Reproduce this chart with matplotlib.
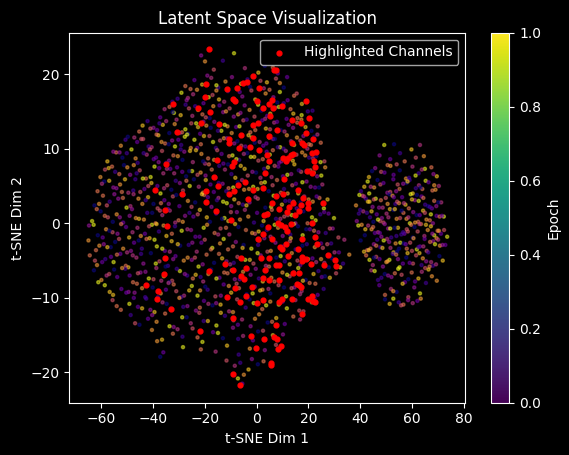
import matplotlib
matplotlib.use("Agg")
from matplotlib import pyplot as plt
from matplotlib import cm, colors

# background embedding points (band by band in y)
bg_x = [
    # left cluster
    -21.4, -19.9, -13.0, -8.7, -16.5, 3.2, 6.3, 8.2, 0.7, -4.5,
    -27.5, -24.0, -21.0, -17.5, -14.8, -12.0, -9.5, -6.0, -2.5, 1.5,
    4.0, 7.5, 10.5, -25.5, -19.0, -15.5, -3.5, 2.8, 9.0, 11.8,
    -32.5, -29.0, -26.5, -23.0, -20.5, -17.0, -14.5, -11.0, -8.0, -5.5,
    -2.0, 1.0, 3.5, 6.5, 9.0, 12.0, 14.5, 17.5, -30.5, -24.5,
    -18.5, -12.5, -6.5, -0.5, 5.0, 10.5, 15.5, -27.0, -15.5, 8.0,
    -37.2, -33.6, -31.9, -27.4, -24.8, -22.6, -18.1, -16.7, -12.9, -10.4,
    -7.1, -4.6, -0.8, 1.9, 5.3, 7.2, 11.6, 13.1, 17.4, 19.8,
    -35.5, -29.3, -23.7, -19.6, -11.8, -6.2, 0.6, 4.1, 9.7, 15.8,
    -32.4, -26.1, -20.9, -14.3, -8.8, -2.7, 3.3, 8.6, 14.2, 21.6,
    -45.3, -42.1, -39.8, -36.2, -33.7, -30.9, -27.5, -25.2, -21.8, -19.4,
    -16.3, -13.6, -11.2, -7.9, -5.1, -2.4, 0.9, 3.6, 6.8, 9.3,
    -44.0, -38.4, -34.9, -28.8, -23.3, -17.7, -9.6, -3.8, 5.2, 12.4,
    -41.0, -31.6, -26.4, -20.5, -14.9, -6.6, 2.2, 10.8, 15.7, 18.9,
    -37.5, -29.7, -22.6, -12.3, -0.5, 7.9, 14.1, 17.3, 21.2, 23.6,
    -52.4, -49.7, -46.1, -43.8, -40.5, -37.9, -35.3, -32.6, -29.1, -26.8,
    -24.0, -21.5, -18.2, -15.7, -12.6, -10.1, -7.4, -4.3, -1.9, 1.2,
    3.8, 6.4, 9.1, 11.7, 14.5, 16.9, 19.6, 22.3, 24.8, -50.6,
    -47.2, -41.7, -38.6, -33.9, -30.2, -25.4, -20.3, -16.8, -11.4, -5.9,
    -0.7, 4.9, 8.2, 13.3, 18.1, 21.0, -44.5, -36.7, -27.7, -22.9,
    -14.1, -8.6, -3.1, 2.6, 7.1, 10.4, 15.6, 20.2, 23.5, -31.5,
    -57.6, -54.2, -51.8, -48.3, -45.9, -42.4, -39.7, -36.5, -33.8, -30.4,
    -27.9, -24.6, -21.3, -18.7, -15.2, -12.8, -9.3, -6.7, -3.6, -0.9,
    2.4, 5.1, 8.7, 11.3, 14.0, 17.6, 20.3, 23.1, 26.2, -55.3,
    -50.1, -46.7, -41.2, -37.8, -32.1, -28.6, -23.4, -19.9, -13.5, -7.8,
    -2.2, 3.9, 9.6, 15.4, 21.8, -43.6, -35.0, -25.7, -16.4, -10.6,
    -4.9, 0.7, 6.3, 12.5, 18.8, 24.7, -52.9, -38.8, -29.3, -20.6,
    -60.3, -57.1, -54.6, -51.2, -48.8, -45.1, -42.7, -39.4, -36.0, -33.3,
    -30.7, -27.2, -24.9, -21.6, -18.4, -15.9, -12.2, -9.7, -6.1, -3.4,
    -0.2, 2.9, 5.8, 8.4, 11.9, 14.6, 17.2, 20.8, 23.4, 26.5,
    -58.5, -53.0, -47.4, -43.9, -37.6, -31.8, -26.0, -19.7, -14.4, -8.2,
    -1.6, 4.4, 10.2, 16.3, 22.1, -55.8, -40.9, -34.6, -22.8, -11.0,
    -4.6, 1.5, 7.0, 13.4, 19.1, 25.0, -49.9, -28.7, -17.3, -46.3,
    -61.4, -58.8, -55.3, -52.7, -49.5, -46.8, -43.3, -40.6, -37.1, -34.5,
    -31.2, -28.4, -25.8, -22.3, -19.6, -16.5, -13.1, -10.8, -7.3, -4.8,
    -1.3, 1.8, 4.7, 7.9, 10.6, 13.8, 16.1, 19.3, 22.6, 25.4,
    -59.7, -54.1, -50.8, -44.9, -38.3, -32.9, -27.1, -20.7, -14.6, -9.0,
    -2.9, 3.2, 9.4, 15.2, 20.9, -56.9, -47.6, -41.8, -35.7, -24.2,
    -17.8, -11.7, -5.6, 0.4, 6.2, 12.0, 17.7, 24.1, -29.6, -52.0,
    -62.6, -59.3, -56.7, -53.4, -50.2, -47.5, -44.1, -41.9, -38.2, -35.6,
    -32.3, -29.8, -26.5, -23.7, -20.2, -17.4, -14.7, -11.5, -8.6, -5.3,
    -2.7, 0.5, 3.4, 6.6, 9.8, 12.7, 15.5, 18.4, 21.7, 24.3,
    27.4, -60.8, -54.9, -48.7, -42.8, -36.9, -31.0, -25.1, -18.8, -12.9,
    -6.9, -0.4, 5.6, 11.1, 17.0, 23.2, -57.8, -45.6, -33.9, -21.1,
    -15.3, -3.9, 8.0, 14.3, 20.1, 26.0, -51.6, -39.8, -28.2, -9.8,
    -63.5, -60.2, -57.4, -54.0, -51.5, -48.1, -45.4, -42.2, -39.0, -36.4,
    -33.5, -30.1, -27.6, -24.4, -21.9, -18.0, -15.6, -12.4, -9.9, -6.4,
    -3.2, 0.2, 2.7, 5.9, 9.2, 12.1, 15.0, 18.1, 21.4, 24.6,
    27.8, 29.9, -61.7, -55.5, -49.0, -43.5, -37.3, -31.4, -25.9, -19.2,
    -13.3, -7.6, -1.0, 4.5, 10.7, 16.6, 22.8, -58.6, -46.6, -34.2,
    -22.7, -10.9, -4.5, 7.5, 13.6, 19.7, 26.1, -52.8, -40.3, -28.5,
    -64.7, -61.3, -58.1, -55.6, -52.3, -49.2, -46.0, -43.1, -40.4, -37.7,
    -34.8, -31.5, -28.9, -25.3, -22.0, -19.1, -16.2, -13.9, -10.5, -7.0,
    -4.1, -0.6, 2.1, 5.4, 8.3, 11.5, 14.4, 17.8, 20.6, 23.9,
    26.7, 29.4, 31.6, -62.9, -56.8, -50.4, -44.7, -38.6, -32.7, -26.7,
    -20.4, -14.8, -8.3, -1.7, 4.0, 10.1, 16.0, 22.2, 28.3, -59.4,
    -47.9, -35.9, -23.6, -11.8, 0.8, 7.0, 13.0, 19.2, -53.7, -41.5,
    -64.9, -62.0, -59.0, -56.3, -53.1, -50.0, -47.3, -44.3, -41.3, -38.5,
    -35.4, -32.8, -29.5, -26.2, -23.1, -20.0, -17.1, -14.1, -11.0, -8.0,
    -5.0, -2.0, 1.1, 4.2, 7.3, 10.3, 13.2, 16.3, 19.4, 22.5,
    25.6, 28.8, 31.8, 33.9, -60.7, -54.6, -48.5, -42.5, -36.4, -30.4,
    -24.8, -17.6, -12.7, -5.4, 0.6, 5.5, 12.9, 17.7, 24.9, 30.1,
    -57.6, -45.5, -33.5, -21.3, -9.1, 3.0, 15.1, 27.3, -51.5, -39.4,
    -64.4, -61.6, -58.4, -55.2, -52.6, -49.5, -46.4, -43.7, -40.8, -37.5,
    -34.2, -31.3, -28.1, -25.0, -22.4, -19.3, -16.4, -13.3, -10.2, -7.4,
    -4.4, -1.2, 1.6, 4.8, 7.6, 10.9, 13.6, 16.9, 19.9, 23.0,
    26.2, 29.1, 32.3, 35.8, -62.4, -56.2, -50.5, -44.6, -38.9, -32.2,
    -26.6, -20.8, -14.5, -8.8, -2.6, 3.6, 9.3, 15.8, 21.6, 27.9,
    -59.6, -47.8, -35.1, -23.8, -11.6, 0.4, 12.8, 24.9, 33.4, -53.9,
    -62.8, -59.9, -56.9, -53.8, -50.7, -47.7, -44.8, -41.6, -38.7, -35.8,
    -32.6, -29.6, -26.8, -23.5, -20.6, -17.5, -14.3, -11.2, -8.4, -5.2,
    -2.3, 0.9, 3.8, 6.9, 10.0, 12.8, 16.1, 19.0, 22.0, 25.2,
    28.3, 30.7, -61.1, -55.0, -49.0, -42.9, -36.8, -30.8, -24.6, -18.6,
    -12.5, -6.5, -0.3, 5.7, 11.8, 17.9, 23.9, -57.9, -45.8, -33.7,
    -21.6, -9.6, 2.4, 14.5, 26.4, -51.9, -39.8, -27.7, -15.5, -3.4,
    -58.6, -55.4, -52.2, -49.4, -46.2, -43.0, -40.1, -37.0, -34.0, -31.0,
    -28.0, -25.0, -21.8, -18.9, -15.9, -12.7, -9.8, -6.8, -3.8, -0.7,
    2.3, 5.3, 8.5, 11.4, 14.6, 17.4, 20.5, 23.6, 25.9, -56.7,
    -50.3, -44.2, -38.1, -32.0, -26.0, -19.8, -13.8, -7.7, -1.5, 4.6,
    10.6, 16.8, 22.7, -47.1, -35.0, -22.8, -10.7, 1.4, 13.5, -29.1,
    -55.6, -52.4, -49.1, -45.8, -42.6, -39.4, -36.3, -33.1, -29.8, -26.7,
    -23.4, -20.3, -17.0, -13.9, -10.6, -7.5, -4.2, -1.1, 2.2, 5.3,
    8.6, 11.7, 15.0, 18.1, 21.3, -54.0, -47.4, -41.0, -34.7, -28.3,
    -21.9, -15.6, -9.1, -2.7, 3.7, 10.1, 16.5, 22.4, -44.2, -18.6,
    -48.6, -45.2, -41.9, -38.6, -35.3, -32.0, -28.7, -25.4, -22.1, -18.8,
    -15.5, -12.2, -8.9, -5.6, -2.3, 1.0, 4.3, 7.6, 10.9, 14.2,
    16.8, -46.9, -40.3, -33.6, -27.0, -20.4, -13.8, -7.2, -0.6, 6.0,
    -40.4, -36.5, -32.3, -28.6, -24.7, -20.9, -16.8, -13.0, -9.1, -5.2,
    -1.4, 2.5, 6.3, 10.2, -38.4, -30.5, -22.8, -14.9, -7.1, 0.6,
    -37.2, -36.0, -28.4, -21.5, -15.8, -11.4, -6.9, -2.6, 3.2, 7.5,
    -11.6, -8.4, -6.3, -4.9, -3.1, -1.8, 0.5, 2.7, -7.2, -5.5,
    # right cluster
    47.5, 49.3, 51.6, 53.1, 55.4, 57.2, 59.8, 61.5, 63.1, 64.6,
    43.4, 45.8, 48.1, 50.6, 52.9, 55.3, 57.7, 60.2, 62.6, 65.0,
    67.5, 69.6, 44.6, 49.4, 54.1, 58.9, 63.8, 68.3, 51.7, 61.4,
    40.3, 42.9, 45.4, 47.8, 50.5, 52.8, 55.2, 57.9, 60.3, 62.7,
    65.3, 67.9, 70.4, 41.6, 46.7, 51.6, 56.6, 61.5, 66.4, 69.1,
    44.1, 49.0, 53.9, 59.1, 64.0, 68.6, 43.5, 58.3, 63.3, 54.5,
    38.4, 40.9, 43.6, 46.0, 48.7, 51.3, 53.6, 56.2, 58.8, 61.1,
    63.7, 66.2, 68.6, 71.3, 39.7, 44.8, 49.9, 55.0, 60.0, 65.1,
    70.2, 42.2, 47.3, 52.5, 57.5, 62.6, 67.7, 41.5, 54.3, 64.4,
    45.3, 50.6, 59.5, 69.4, 48.0, 56.9, 61.9, 66.9, 53.0, 43.0,
    38.7, 41.2, 43.8, 46.4, 49.0, 51.5, 54.1, 56.7, 59.2, 61.8,
    64.3, 66.9, 69.5, 72.3, 40.0, 45.1, 50.2, 55.4, 60.5, 65.6,
    70.7, 42.6, 47.7, 52.8, 57.9, 63.0, 68.1, 44.4, 58.6, 67.3,
    39.5, 48.4, 53.4, 62.4, 71.6, 46.9, 56.0, 61.2, 65.0, 50.9,
    39.3, 41.8, 44.4, 46.9, 49.5, 52.0, 54.6, 57.1, 59.7, 62.2,
    64.8, 67.3, 69.9, 72.4, 73.6, 40.6, 45.7, 50.8, 55.9, 61.0,
    66.1, 71.2, 43.1, 48.2, 53.3, 58.4, 63.5, 68.6, 42.0, 56.6,
    47.6, 51.6, 60.3, 65.4, 70.4, 45.0, 54.0, 62.9, 67.9, 58.0,
    40.2, 42.7, 45.3, 47.8, 50.4, 52.9, 55.5, 58.0, 60.6, 63.1,
    65.7, 68.2, 70.8, 72.9, 41.5, 46.6, 51.7, 56.8, 61.9, 67.0,
    71.8, 44.0, 49.1, 54.2, 59.3, 64.4, 69.5, 43.3, 57.6, 62.5,
    48.6, 53.7, 66.3, 70.1, 46.2, 51.2, 60.0, 64.9, 55.0, 68.9,
    42.3, 44.9, 47.5, 50.1, 52.6, 55.2, 57.8, 60.4, 62.9, 65.5,
    68.1, 70.6, 71.9, 43.6, 48.8, 53.9, 59.1, 64.2, 69.3, 46.2,
    51.3, 56.5, 61.6, 66.8, 45.4, 50.6, 58.3, 63.7, 54.6, 67.4,
    44.3, 46.9, 49.5, 52.1, 54.7, 57.3, 59.9, 62.5, 65.1, 67.7,
    69.6, 45.6, 50.8, 56.0, 61.2, 66.4, 48.2, 53.4, 58.6, 63.8,
    47.4, 49.6, 51.9, 54.1, 56.4, 58.6, 60.9, 63.1, 65.4, 52.8,
    49.6, 51.4, 52.8, 54.9, 56.7, 58.5, 60.3, 62.1, 63.4, 55.8,
]

bg_y = [
    # left cluster
    22.5, 21.7, 21.8, 22.8, 20.6, 21.1, 20.9, 20.1, 20.2, 20.8,
    18.4, 19.2, 18.6, 19.5, 18.2, 19.0, 19.6, 18.7, 18.3, 19.1,
    18.9, 19.4, 18.2, 18.0, 19.8, 18.5, 19.3, 18.1, 18.8, 19.6,
    16.3, 17.5, 16.8, 17.9, 16.1, 17.2, 16.6, 17.7, 16.4, 17.0,
    17.8, 16.2, 17.4, 16.9, 17.6, 16.5, 17.1, 16.0, 16.7, 17.3,
    16.9, 16.3, 17.6, 16.6, 17.9, 16.1, 17.4, 16.5, 17.8, 16.2,
    14.2, 15.6, 14.8, 15.9, 14.4, 15.2, 14.1, 15.7, 14.9, 15.4,
    14.6, 15.8, 14.3, 15.1, 14.7, 15.5, 14.0, 15.3, 14.5, 15.0,
    15.3, 14.5, 15.7, 14.2, 15.0, 14.8, 15.9, 14.4, 15.6, 14.1,
    14.9, 15.4, 14.6, 15.8, 14.3, 15.2, 14.0, 15.6, 14.7, 15.1,
    12.3, 13.7, 12.8, 13.2, 12.1, 13.9, 12.6, 13.4, 12.0, 13.1,
    13.6, 12.4, 13.0, 12.9, 13.8, 12.2, 13.3, 12.7, 13.5, 12.5,
    13.1, 12.5, 13.7, 12.2, 13.4, 12.8, 12.1, 13.9, 12.6, 13.2,
    12.7, 13.3, 12.0, 13.6, 12.4, 13.0, 13.8, 12.3, 13.5, 12.9,
    13.4, 12.1, 12.9, 13.2, 12.5, 13.6, 12.8, 13.9, 12.4, 13.0,
    10.4, 11.6, 10.9, 11.3, 10.2, 11.8, 10.7, 11.1, 10.5, 11.9,
    11.2, 10.6, 11.7, 10.1, 11.4, 10.8, 11.0, 10.3, 11.5, 10.9,
    10.7, 11.3, 10.2, 11.8, 10.5, 11.1, 10.0, 11.6, 10.8, 11.2,
    11.5, 10.3, 11.9, 10.6, 11.2, 10.1, 11.7, 10.9, 11.4, 10.4,
    10.8, 11.5, 10.2, 11.0, 11.7, 10.5, 11.3, 10.9, 11.6, 10.1,
    11.1, 10.7, 11.8, 10.4, 11.3, 10.0, 11.5, 10.6, 11.9, 10.3,
    8.3, 9.5, 8.8, 9.9, 8.1, 9.2, 8.6, 9.7, 8.4, 9.0,
    9.6, 8.2, 9.3, 8.7, 9.8, 8.0, 9.1, 8.5, 9.4, 8.9,
    8.6, 9.2, 8.1, 9.7, 8.4, 9.5, 8.8, 9.0, 8.3, 9.6,
    9.4, 8.7, 9.9, 8.2, 9.1, 8.5, 9.8, 8.0, 9.3, 8.6,
    8.9, 9.6, 8.3, 9.2, 8.7, 9.4, 8.1, 9.7, 8.5, 9.0,
    9.3, 8.4, 9.8, 8.6, 9.1, 8.2, 9.5, 8.8, 9.9, 8.3,
    6.2, 7.4, 6.9, 7.8, 6.5, 7.1, 6.0, 7.6, 6.7, 7.3,
    7.5, 6.3, 7.0, 6.8, 7.9, 6.1, 7.2, 6.6, 7.7, 6.4,
    6.8, 7.3, 6.2, 7.6, 6.5, 7.9, 6.9, 7.1, 6.3, 7.5,
    7.2, 6.6, 7.8, 6.0, 7.4, 6.7, 7.0, 6.4, 7.7, 6.1,
    6.9, 7.5, 6.3, 7.1, 6.8, 7.6, 6.2, 7.3, 6.5, 7.9,
    7.3, 6.1, 7.7, 6.6, 7.0, 6.4, 7.5, 6.9, 7.2, 6.7,
    4.3, 5.6, 4.8, 5.2, 4.1, 5.9, 4.6, 5.4, 4.0, 5.1,
    5.7, 4.4, 5.0, 4.9, 5.8, 4.2, 5.3, 4.7, 5.5, 4.5,
    4.9, 5.4, 4.3, 5.8, 4.6, 5.1, 4.0, 5.6, 4.8, 5.2,
    5.3, 4.7, 5.9, 4.2, 5.0, 4.5, 5.7, 4.1, 5.4, 4.8,
    4.6, 5.5, 4.1, 5.3, 4.9, 5.7, 4.4, 5.0, 4.7, 5.9,
    5.2, 4.3, 5.8, 4.6, 5.1, 4.0, 5.5, 4.8, 5.4, 4.2,
    2.4, 3.7, 2.9, 3.3, 2.1, 3.9, 2.6, 3.5, 2.0, 3.1,
    3.6, 2.3, 3.0, 2.8, 3.8, 2.2, 3.4, 2.7, 3.2, 2.5,
    2.8, 3.3, 2.1, 3.7, 2.5, 3.0, 2.0, 3.6, 2.9, 3.4,
    3.2, 2.6, 3.9, 2.3, 3.1, 2.7, 3.8, 2.2, 3.5, 2.9,
    2.7, 3.5, 2.2, 3.0, 2.8, 3.6, 2.4, 3.3, 2.6, 3.9,
    3.1, 2.4, 3.7, 2.9, 3.2, 2.0, 3.4, 2.6, 3.8, 2.3,
    0.3, 1.6, 0.8, 1.2, 0.1, 1.9, 0.6, 1.4, 0.0, 1.1,
    1.7, 0.4, 1.0, 0.9, 1.8, 0.2, 1.3, 0.7, 1.5, 0.5,
    0.9, 1.4, 0.3, 1.8, 0.6, 1.1, 0.0, 1.6, 0.8, 1.2,
    1.3, 0.7, 1.9, 0.2, 1.0, 0.5, 1.7, 0.1, 1.4, 0.8,
    0.6, 1.5, 0.1, 1.3, 0.9, 1.7, 0.4, 1.0, 0.7, 1.9,
    1.2, 0.3, 1.8, 0.6, 1.1, 0.0, 1.5, 0.8, 1.4, 0.2,
    -0.3, -1.6, -0.8, -1.2, -0.1, -1.9, -0.6, -1.4, -0.2, -1.1,
    -1.7, -0.4, -1.0, -0.9, -1.8, -0.2, -1.3, -0.7, -1.5, -0.5,
    -0.9, -1.4, -0.3, -1.8, -0.6, -1.1, -0.1, -1.6, -0.8, -1.2,
    -1.3, -0.7, -1.9, -0.2, -1.0, -0.5, -1.7, -0.1, -1.4, -0.8,
    -0.6, -1.5, -0.1, -1.3, -0.9, -1.7, -0.4, -1.0, -0.7, -1.9,
    -1.2, -0.3, -1.8, -0.6, -1.1, -0.2, -1.5, -0.8, -1.4, -0.4,
    -2.3, -3.6, -2.8, -3.2, -2.1, -3.9, -2.6, -3.4, -2.0, -3.1,
    -3.7, -2.4, -3.0, -2.9, -3.8, -2.2, -3.3, -2.7, -3.5, -2.5,
    -2.9, -3.4, -2.3, -3.8, -2.6, -3.1, -2.0, -3.6, -2.8, -3.2,
    -3.3, -2.7, -3.9, -2.2, -3.0, -2.5, -3.7, -2.1, -3.4, -2.8,
    -2.6, -3.5, -2.1, -3.3, -2.9, -3.7, -2.4, -3.0, -2.7, -3.9,
    -3.2, -2.3, -3.8, -2.6, -3.1, -2.0, -3.5, -2.8, -3.4, -2.2,
    -4.3, -5.6, -4.8, -5.2, -4.1, -5.9, -4.6, -5.4, -4.0, -5.1,
    -5.7, -4.4, -5.0, -4.9, -5.8, -4.2, -5.3, -4.7, -5.5, -4.5,
    -4.9, -5.4, -4.3, -5.8, -4.6, -5.1, -4.0, -5.6, -4.8, -5.2,
    -5.3, -4.7, -5.9, -4.2, -5.0, -4.5, -5.7, -4.1, -5.4, -4.8,
    -4.6, -5.5, -4.1, -5.3, -4.9, -5.7, -4.4, -5.0, -4.7, -5.9,
    -5.2, -4.3, -5.8, -4.6, -5.1, -4.0, -5.5, -4.8, -5.4, -4.2,
    -6.3, -7.6, -6.8, -7.2, -6.1, -7.9, -6.6, -7.4, -6.0, -7.1,
    -7.7, -6.4, -7.0, -6.9, -7.8, -6.2, -7.3, -6.7, -7.5, -6.5,
    -6.9, -7.4, -6.3, -7.8, -6.6, -7.1, -6.0, -7.6, -6.8, -7.2,
    -7.3, -6.7, -7.9, -6.2, -7.0, -6.5, -7.7, -6.1, -7.4, -6.8,
    -6.6, -7.5, -6.1, -7.3, -6.9, -7.7, -6.4, -7.0, -6.7, -7.9,
    -7.2, -6.3, -7.8, -6.6, -7.1, -6.0, -7.5, -6.8, -7.4, -6.2,
    -8.3, -9.6, -8.8, -9.2, -8.1, -9.9, -8.6, -9.4, -8.0, -9.1,
    -9.7, -8.4, -9.0, -8.9, -9.8, -8.2, -9.3, -8.7, -9.5, -8.5,
    -8.9, -9.4, -8.3, -9.8, -8.6, -9.1, -8.0, -9.6, -8.8, -9.2,
    -9.3, -8.7, -9.9, -8.2, -9.0, -8.5, -9.7, -8.1, -9.4, -8.8,
    -8.6, -9.5, -8.1, -9.3, -8.9, -9.7, -8.4, -9.0, -8.7, -9.9,
    -10.3, -11.6, -10.8, -11.2, -10.1, -11.9, -10.6, -11.4, -10.0, -11.1,
    -11.7, -10.4, -11.0, -10.9, -11.8, -10.2, -11.3, -10.7, -11.5, -10.5,
    -10.9, -11.4, -10.3, -11.8, -10.6, -11.1, -10.0, -11.6, -10.8, -11.2,
    -11.3, -10.7, -11.9, -10.2, -11.0, -10.5, -11.7, -10.1, -11.4, -10.8,
    -12.3, -13.6, -12.8, -13.2, -12.1, -13.9, -12.6, -13.4, -12.0, -13.1,
    -13.7, -12.4, -13.0, -12.9, -13.8, -12.2, -13.3, -12.7, -13.5, -12.5,
    -12.9, -13.4, -12.3, -13.8, -12.6, -13.1, -12.0, -13.6, -12.8, -13.2,
    -14.3, -15.6, -14.8, -15.2, -14.1, -15.9, -14.6, -15.4, -14.0, -15.1,
    -15.7, -14.4, -15.0, -14.9, -15.8, -14.2, -15.3, -14.7, -15.5, -14.5,
    -17.9, -17.3, -16.6, -16.9, -17.2, -16.4, -17.6, -16.8, -17.0, -16.3,
    -18.4, -19.1, -18.7, -20.3, -19.6, -18.2, -18.9, -18.5, -20.8, -21.5,
    # right cluster
    9.1, 10.5, 8.6, 10.6, 9.4, 8.3, 9.9, 8.8, 10.5, 9.0,
    6.2, 7.4, 6.9, 7.8, 6.5, 7.1, 6.0, 7.6, 6.7, 7.3,
    7.5, 6.3, 7.0, 6.8, 7.9, 6.1, 7.2, 6.6, 7.7, 6.4,
    4.3, 5.6, 4.8, 5.2, 4.1, 5.9, 4.6, 5.4, 4.0, 5.1,
    5.7, 4.4, 5.0, 4.9, 5.8, 4.2, 5.3, 4.7, 5.5, 4.5,
    4.9, 5.4, 4.3, 5.8, 4.6, 5.1, 4.0, 5.6, 4.8, 5.2,
    2.4, 3.7, 2.9, 3.3, 2.1, 3.9, 2.6, 3.5, 2.0, 3.1,
    3.6, 2.3, 3.0, 2.8, 3.8, 2.2, 3.4, 2.7, 3.2, 2.5,
    2.8, 3.3, 2.1, 3.7, 2.5, 3.0, 2.0, 3.6, 2.9, 3.4,
    3.2, 2.6, 3.9, 2.3, 3.1, 2.7, 3.8, 2.2, 3.5, 2.9,
    0.3, 1.6, 0.8, 1.2, 0.1, 1.9, 0.6, 1.4, 0.0, 1.1,
    1.7, 0.4, 1.0, 0.9, 1.8, 0.2, 1.3, 0.7, 1.5, 0.5,
    0.9, 1.4, 0.3, 1.8, 0.6, 1.1, 0.0, 1.6, 0.8, 1.2,
    1.3, 0.7, 1.9, 0.2, 1.0, 0.5, 1.7, 0.1, 1.4, 0.8,
    -0.3, -1.6, -0.8, -1.2, -0.1, -1.9, -0.6, -1.4, -0.2, -1.1,
    -1.7, -0.4, -1.0, -0.9, -1.8, -0.2, -1.3, -0.7, -1.5, -0.5,
    -0.9, -1.4, -0.3, -1.8, -0.6, -1.1, -0.1, -1.6, -0.8, -1.2,
    -1.3, -0.7, -1.9, -0.2, -1.0, -0.5, -1.7, -0.1, -1.4, -0.8,
    -2.3, -3.6, -2.8, -3.2, -2.1, -3.9, -2.6, -3.4, -2.0, -3.1,
    -3.7, -2.4, -3.0, -2.9, -3.8, -2.2, -3.3, -2.7, -3.5, -2.5,
    -2.9, -3.4, -2.3, -3.8, -2.6, -3.1, -2.0, -3.6, -2.8, -3.2,
    -3.3, -2.7, -3.9, -2.2, -3.0, -2.5, -3.7, -2.1, -3.4, -2.8,
    -4.3, -5.6, -4.8, -5.2, -4.1, -5.9, -4.6, -5.4, -4.0, -5.1,
    -5.7, -4.4, -5.0, -4.9, -5.8, -4.2, -5.3, -4.7, -5.5, -4.5,
    -4.9, -5.4, -4.3, -5.8, -4.6, -5.1, -4.0, -5.6, -4.8, -5.2,
    -6.3, -7.6, -6.8, -7.2, -6.1, -7.9, -6.6, -7.4, -6.0, -7.1,
    -7.7, -6.4, -7.0, -6.9, -7.8, -6.2, -7.3, -6.7, -7.5, -6.5,
    -8.3, -9.6, -8.8, -9.2, -8.1, -9.9, -8.6, -9.4, -8.0, -9.1,
    -10.2, -10.8, -10.1, -10.6, -10.9, -10.3, -10.7, -10.4, -10.1, -11.0,
]

# epoch index of each background point (0..9)
bg_epoch = [
    3, 7, 1, 9, 5, 0, 6, 2, 8, 4,
    6, 2, 8, 4, 1, 7, 3, 9, 0, 5,
    8, 5, 0, 6, 3, 9, 1, 4, 7, 2,
    1, 9, 4, 7, 2, 5, 8, 0, 6, 3,
    5, 0, 7, 3, 9, 2, 6, 8, 1, 4,
    9, 4, 2, 8, 6, 1, 5, 3, 7, 0,
    2, 6, 9, 1, 4, 8, 0, 7, 3, 5,
    7, 3, 5, 0, 8, 4, 2, 6, 9, 1,
    4, 8, 1, 5, 7, 3, 9, 2, 0, 6,
    0, 5, 6, 2, 3, 7, 4, 9, 8, 1,
    6, 1, 3, 8, 0, 4, 9, 5, 2, 7,
    3, 9, 7, 2, 5, 6, 1, 8, 4, 0,
    8, 2, 4, 6, 9, 0, 7, 1, 5, 3,
    5, 7, 0, 3, 1, 9, 2, 4, 6, 8,
    1, 4, 8, 9, 6, 2, 3, 7, 0, 5,
    7, 0, 2, 5, 4, 8, 6, 3, 1, 9,
    9, 6, 5, 1, 7, 3, 0, 2, 8, 4,
    2, 3, 9, 7, 8, 5, 4, 0, 6, 1,
    4, 1, 6, 0, 2, 7, 8, 9, 3, 5,
    0, 8, 1, 4, 3, 6, 5, 7, 9, 2,
    5, 3, 8, 2, 0, 1, 7, 6, 4, 9,
    8, 6, 0, 9, 1, 4, 2, 5, 3, 7,
    3, 4, 7, 6, 5, 2, 9, 1, 0, 8,
    6, 9, 2, 4, 8, 7, 1, 0, 5, 3,
    1, 7, 5, 3, 6, 0, 8, 4, 2, 9,
    9, 2, 3, 5, 4, 1, 0, 8, 7, 6,
    4, 5, 6, 8, 7, 9, 3, 2, 1, 0,
    7, 8, 1, 0, 3, 5, 6, 9, 4, 2,
    2, 0, 9, 7, 6, 3, 4, 1, 8, 5,
    0, 1, 4, 2, 9, 8, 5, 6, 3, 7,
    5, 6, 7, 9, 2, 4, 0, 3, 1, 8,
    3, 8, 2, 1, 7, 6, 9, 4, 5, 0,
    8, 4, 5, 3, 0, 9, 7, 2, 6, 1,
    6, 0, 3, 7, 4, 1, 2, 8, 9, 5,
    1, 5, 9, 4, 8, 2, 3, 6, 0, 7,
    9, 7, 0, 6, 1, 5, 8, 3, 2, 4,
    4, 3, 8, 5, 2, 0, 6, 7, 1, 9,
    7, 9, 6, 2, 3, 8, 1, 5, 4, 0,
    2, 1, 4, 8, 5, 7, 9, 0, 3, 6,
    0, 6, 1, 3, 9, 4, 7, 8, 5, 2,
    5, 2, 7, 0, 6, 3, 4, 9, 8, 1,
    3, 5, 0, 9, 8, 1, 2, 4, 7, 6,
    8, 7, 3, 4, 1, 6, 0, 5, 2, 9,
    6, 4, 9, 1, 0, 2, 5, 7, 3, 8,
    1, 8, 2, 5, 7, 9, 6, 0, 4, 3,
    9, 0, 5, 7, 2, 3, 8, 1, 6, 4,
    4, 6, 3, 2, 8, 0, 1, 9, 5, 7,
    7, 2, 8, 6, 4, 5, 3, 0, 9, 1,
    2, 9, 6, 0, 3, 7, 5, 4, 1, 8,
    0, 3, 1, 8, 5, 4, 9, 6, 7, 2,
    5, 8, 4, 1, 9, 6, 2, 3, 0, 7,
    3, 0, 7, 5, 6, 8, 4, 2, 9, 1,
    8, 1, 9, 3, 2, 7, 6, 5, 4, 0,
    6, 5, 0, 4, 7, 1, 8, 9, 2, 3,
    1, 3, 5, 9, 0, 2, 7, 8, 6, 4,
    9, 4, 8, 7, 1, 3, 0, 6, 5, 2,
    4, 7, 2, 6, 8, 9, 1, 0, 3, 5,
    7, 6, 3, 0, 5, 4, 2, 1, 8, 9,
    2, 8, 0, 1, 4, 5, 9, 7, 6, 3,
    0, 9, 6, 5, 3, 2, 8, 4, 1, 7,
    5, 1, 2, 4, 7, 0, 3, 6, 9, 8,
    3, 6, 9, 8, 1, 7, 5, 0, 2, 4,
    8, 0, 4, 2, 6, 3, 1, 5, 7, 9,
    6, 7, 1, 9, 2, 8, 4, 3, 0, 5,
    1, 2, 7, 3, 9, 6, 0, 8, 4, 5,
    9, 5, 3, 6, 0, 1, 7, 2, 8, 4,
    4, 0, 8, 7, 5, 2, 6, 1, 9, 3,
    7, 3, 6, 1, 8, 4, 9, 5, 2, 0,
    2, 4, 0, 5, 3, 9, 8, 7, 1, 6,
    0, 7, 5, 2, 1, 6, 3, 9, 4, 8,
    5, 9, 1, 8, 4, 0, 2, 6, 3, 7,
    3, 1, 4, 6, 7, 5, 9, 0, 8, 2,
    8, 5, 9, 0, 2, 3, 4, 1, 6, 7,
    6, 2, 3, 7, 9, 8, 1, 4, 5, 0,
    1, 6, 8, 4, 0, 7, 5, 3, 9, 2,
    9, 8, 2, 3, 6, 1, 0, 7, 4, 5,
    4, 9, 7, 1, 5, 2, 8, 6, 0, 3,
    7, 0, 5, 9, 3, 4, 6, 2, 1, 8,
    2, 7, 1, 6, 8, 0, 3, 5, 9, 4,
    0, 4, 6, 3, 2, 9, 7, 8, 5, 1,
    5, 6, 9, 2, 1, 8, 4, 0, 7, 3,
    3, 2, 0, 8, 4, 5, 1, 9, 6, 7,
    8, 9, 4, 5, 7, 6, 2, 3, 0, 1,
    6, 3, 7, 0, 9, 2, 5, 1, 8, 4,
    1, 0, 2, 7, 6, 3, 9, 4, 5, 8,
    9, 1, 5, 4, 3, 7, 0, 8, 2, 6,
    4, 5, 3, 9, 0, 1, 8, 2, 7, 6,
    7, 8, 6, 1, 5, 9, 2, 0, 3, 4,
    2, 5, 8, 3, 7, 4, 6, 9, 1, 0,
    0, 2, 9, 6, 4, 8, 1, 7, 3, 5,
    5, 4, 1, 7, 8, 3, 0, 6, 9, 2,
    3, 9, 2, 0, 1, 6, 8, 5, 4, 7,
    8, 3, 5, 6, 2, 0, 7, 4, 1, 9,
    6, 8, 0, 2, 5, 1, 4, 3, 7, 9,
    1, 9, 7, 5, 3, 2, 6, 0, 8, 4,
    9, 6, 4, 8, 0, 5, 3, 1, 2, 7,
    4, 2, 3, 1, 6, 7, 9, 8, 0, 5,
    7, 5, 8, 9, 4, 0, 1, 2, 6, 3,
    2, 0, 6, 4, 9, 3, 5, 7, 8, 1,
    0, 1, 3, 7, 8, 9, 2, 4, 5, 6,
    5, 7, 9, 3, 6, 4, 0, 1, 2, 8,
    3, 4, 1, 2, 5, 8, 7, 6, 9, 0,
    8, 6, 2, 9, 1, 0, 4, 5, 3, 7,
    6, 1, 5, 0, 7, 2, 3, 8, 4, 9,
    1, 3, 8, 6, 2, 9, 0, 7, 5, 4,
    9, 0, 7, 4, 3, 1, 8, 2, 6, 5,
    4, 8, 6, 5, 9, 7, 2, 3, 1, 0,
    7, 2, 4, 3, 0, 5, 6, 9, 8, 1,
    2, 9, 0, 8, 7, 6, 1, 4, 3, 5,
    0, 5, 3, 1, 4, 8, 9, 6, 7, 2,
    5, 3, 7, 2, 8, 1, 4, 0, 9, 6,
    3, 6, 9, 0, 5, 4, 7, 8, 2, 1,
    8, 7, 1, 4, 6, 3, 5, 2, 0, 9,
    6, 4, 2, 7, 1, 9, 0, 5, 8, 3,
    1, 0, 8, 9, 3, 6, 2, 7, 4, 5,
    9, 2, 5, 6, 0, 7, 8, 1, 3, 4,
    4, 1, 0, 3, 9, 2, 6, 8, 5, 7,
    7, 9, 3, 5, 2, 8, 1, 6, 0, 4,
    2, 6, 4, 0, 8, 5, 3, 9, 1, 7,
    0, 8, 9, 1, 6, 3, 4, 2, 7, 5,
]

# highlighted channels (red)
hi_x = [
    -18.2, -19.4, -32.1, -22.5, -19.9, -18.0, -11.3, -7.6, -5.1, -3.8,
    -1.2, 1.1, -9.0, -8.3, 0.3, 2.4, 4.7, -14.4, -21.3, -30.6,
    -10.5, -10.5, -5.9, -1.5, 0.7, -1.2, 4.7, -6.6, -2.4, 1.1,
    3.9, -15.4, -8.6, -9.3, -35.1, 3.3, -16.4, -14.7, -7.0, -4.4,
    -1.2, 2.6, -39.2, -28.6, -19.5, -10.5, -8.6, -19.4, -3.2, -35.2,
    -15.6, 2.9, 3.9, 6.9, 7.5, 5.9, 6.3, 9.8, 19.1, 5.2,
    13.6, 17.1, 20.4, 8.0, 19.0, 21.9, 13.6, 17.5, 18.3, 10.1,
    12.3, 13.2, 14.0, 21.5, 22.9, 4.9, 11.4, 22.3, 22.6, 19.4,
    21.3, 10.6, 16.1, 7.4, 10.1, 17.8, 6.1, 14.2, 12.4, 17.1,
    20.0, 19.8, 25.6, 8.8, 11.9, 14.9, 16.5, -34.7, -9.7, 4.6,
    0.7, 2.4, -35.3, -6.0, 1.6, 4.8, -12.2, -18.2, -9.0, -4.1,
    3.3, -35.6, -6.0, -4.7, 2.6, 4.8, -42.5, -37.9, -8.2, -1.6,
    -38.3, -11.3, -4.1, -6.3, 0.3, 2.6, -32.9, -9.0, -21.7, -2.1,
    3.0, -0.1, -9.1, -6.3, 8.2, 9.5, 11.0, 13.2, 11.9, 21.3,
    22.7, 23.5, 5.9, 9.1, 9.7, 11.4, 16.1, 17.7, 12.3, 17.5,
    17.5, 19.1, 21.0, 26.1, 27.7, 30.4, 30.8, 7.5, 8.7, 14.2,
    16.5, 8.7, 15.5, 16.5, 17.1, 9.7, 8.8, 13.8, 19.8, 21.5,
    21.7, 22.7, 17.7, 7.6, 6.8, 8.0, 9.5, 8.4, 5.7, 5.7,
]
hi_y = [
    23.3, 18.7, 16.0, 15.5, 16.9, 14.9, 18.0, 18.1, 18.8, 19.0,
    19.7, 18.2, 16.6, 16.4, 16.4, 15.4, 16.0, 13.3, 13.4, 12.2,
    11.3, 10.7, 11.9, 13.2, 13.5, 11.5, 11.7, 10.1, 10.2, 9.8,
    9.1, 8.5, 8.2, 7.7, 7.9, 6.7, 6.2, 5.0, 5.2, 5.6,
    4.4, 4.7, 4.4, 3.9, 4.3, 3.9, 4.3, 2.8, 3.3, 1.8,
    1.6, 1.1, 1.2, 20.6, 20.5, 16.5, 15.5, 15.7, 16.4, 14.4,
    13.8, 13.4, 14.1, 12.5, 12.1, 11.3, 10.8, 10.7, 10.5, 8.8,
    8.8, 9.1, 9.3, 9.4, 9.5, 8.4, 8.4, 8.4, 7.5, 7.0,
    6.7, 5.9, 4.5, 3.6, 3.9, 3.4, 2.7, 2.7, 2.2, 2.5,
    2.7, 2.1, 2.7, 1.9, 1.5, 1.1, 1.7, -0.4, 0.4, -0.5,
    -2.1, -1.4, -4.6, -4.6, -4.6, -4.7, -5.5, -6.4, -6.3, -6.0,
    -6.3, -6.8, -7.1, -7.5, -7.4, -7.6, -8.3, -9.1, -8.7, -8.6,
    -10.1, -9.9, -9.7, -10.5, -10.7, -10.3, -11.5, -12.7, -14.4, -15.1,
    -15.5, -16.7, -20.2, -21.7, 0.0, -0.2, -0.5, -0.1, -1.0, 0.1,
    -1.9, -2.8, -2.1, -3.2, -3.4, -2.8, -3.4, -2.1, -4.4, -4.5,
    -5.1, -4.8, -5.4, -5.6, -4.3, -4.9, -5.7, -5.6, -5.6, -6.7,
    -6.7, -7.6, -8.1, -8.3, -8.6, -10.1, -10.5, -10.2, -10.1, -9.7,
    -10.4, -10.5, -12.2, -13.7, -15.2, -15.5, -16.4, -16.9, -18.7, -19.0,
]

n = min(len(bg_x), len(bg_y), len(bg_epoch))

plt.style.use("dark_background")
fig = plt.figure(figsize=(5.69, 4.55), dpi=100)
ax = fig.add_axes([69.3 / 569, 52.3 / 455, 396.0 / 569, 370.0 / 455])
cax = fig.add_axes([490.7 / 569, 52.3 / 455, 18.6 / 569, 370.0 / 455])

ax.scatter(bg_x[:n], bg_y[:n], c=bg_epoch[:n], cmap="plasma", vmin=0, vmax=9,
           s=5, alpha=0.5)
ax.scatter(hi_x, hi_y, c="red", s=12, label="Highlighted Channels")

ax.set_xlim(-72.3, 80.6)
ax.set_ylim(-24.05, 25.55)
ax.set_title("Latent Space Visualization")
ax.set_xlabel("t-SNE Dim 1")
ax.set_ylabel("t-SNE Dim 2")
ax.legend(loc="upper right")

sm = cm.ScalarMappable(norm=colors.Normalize(0, 1), cmap="viridis")
cb = fig.colorbar(sm, cax=cax)
cb.set_label("Epoch")

fig.savefig("out.png", dpi=100)
